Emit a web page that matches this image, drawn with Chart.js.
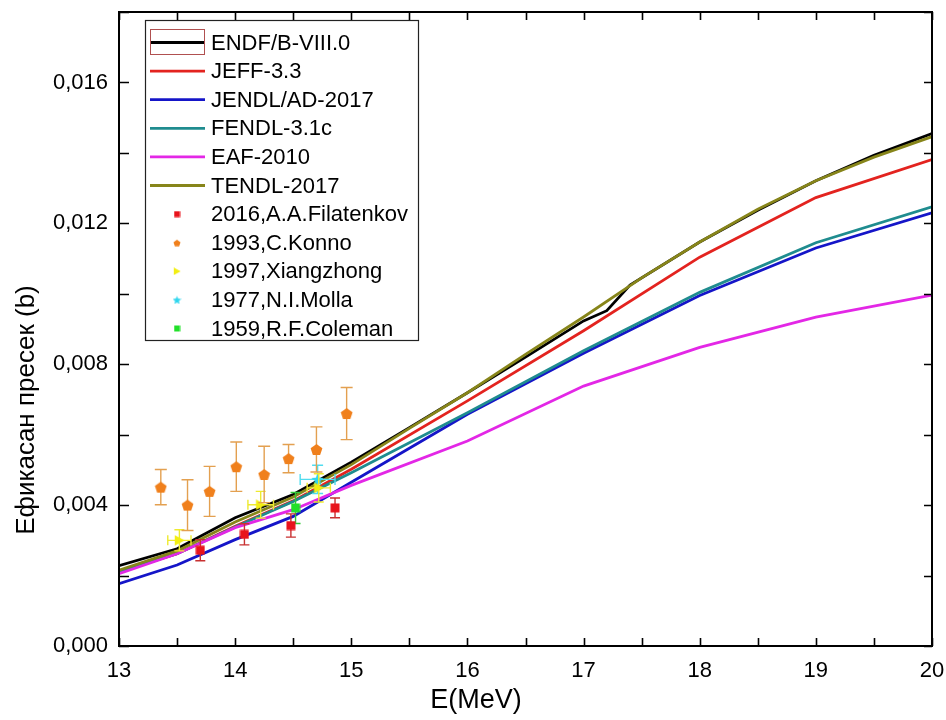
<!DOCTYPE html>
<html>
<head>
<meta charset="utf-8">
<script src="https://cdn.jsdelivr.net/npm/chart.js@4.4.1/dist/chart.umd.min.js"></script>
<style>
  html, body { margin: 0; padding: 0; background: #fff; }
  #wrap { width: 946px; height: 720px; }
</style>
</head>
<body>
<div id="wrap"><canvas id="presek" width="946" height="720"></canvas></div>
<script>
// --- evaluated libraries (E in MeV, sigma in b) ---
const endfE     = [13, 13.5, 14, 14.5, 15, 15.5, 16, 16.5, 17, 17.2, 17.4, 18, 18.5, 19, 19.5, 20];
const endfSigma = [0.00228, 0.00276, 0.00364, 0.00430, 0.00522, 0.00620, 0.00719, 0.00820, 0.00923, 0.00952, 0.01025, 0.01147, 0.01237, 0.01321, 0.01393, 0.01455];

const tendlE     = [13, 13.5, 14, 14.5, 15, 15.5, 16, 16.5, 17, 17.5, 18, 18.5, 19, 19.5, 20];
const tendlSigma = [0.00215, 0.00270, 0.00352, 0.00423, 0.00515, 0.00618, 0.00719, 0.00828, 0.00934, 0.01045, 0.01147, 0.01240, 0.01321, 0.01388, 0.01446];

const libE       = [13, 13.5, 14, 14.5, 15, 16, 17, 18, 19, 20];
const jeffSigma  = [0.00210, 0.00262, 0.00340, 0.00412, 0.00502, 0.00696, 0.00895, 0.01104, 0.01273, 0.01381];
const jendlSigma = [0.00177, 0.00230, 0.00302, 0.00368, 0.00465, 0.00658, 0.00831, 0.00995, 0.01130, 0.01230];
const fendlSigma = [0.00212, 0.00262, 0.00338, 0.00410, 0.00492, 0.00662, 0.00838, 0.01004, 0.01145, 0.01247];
const eafSigma   = [0.00205, 0.00262, 0.00336, 0.00387, 0.00456, 0.00582, 0.00738, 0.00848, 0.00934, 0.00996];

// --- experimental data (EXFOR) ---
const filatenkovE     = [13.70, 14.08, 14.48, 14.86];
const filatenkovSigma = [0.00272, 0.00317, 0.00342, 0.00392];
const filatenkovErr   = [0.00030, 0.00030, 0.00033, 0.00028];

const konnoE     = [13.36, 13.59, 13.78, 14.01, 14.25, 14.46, 14.70, 14.96];
const konnoSigma = [0.00451, 0.00400, 0.00439, 0.00509, 0.00487, 0.00532, 0.00558, 0.00660];
const konnoErr   = [0.00050, 0.00072, 0.00071, 0.00070, 0.00080, 0.00040, 0.00064, 0.00074];

const xiangE      = [13.52, 14.22, 14.72];
const xiangSigma  = [0.00300, 0.00401, 0.00449];
const xiangErr    = [0.00030, 0.00038, 0.00040];
const xiangErrE   = [0.10, 0.11, 0.10];

const mollaE     = [14.71];
const mollaSigma = [0.00473];
const mollaErr   = [0.00040];
const mollaErrE  = [0.15];

const colemanE     = [14.52];
const colemanSigma = [0.00392];
const colemanErr   = [0.00044];

const xTicks = [13, 14, 15, 16, 17, 18, 19, 20];

function pts(xs, ys) {
    return xs.map((x, i) => ({ x: x, y: ys[i] }));
}

// small canvases used as point styles
function markerCanvas(shape, color, size) {
    const c = document.createElement('canvas');
    c.width = size; c.height = size;
    const g = c.getContext('2d');
    const r = size / 2;
    g.fillStyle = color;
    g.beginPath();
    if (shape === 'square') {
        g.rect(0.5, 0.5, size - 1, size - 1);
    } else if (shape === 'pentagon') {
        for (let k = 0; k < 5; k++) {
            const a = -Math.PI / 2 + k * 2 * Math.PI / 5;
            const px = r + (r - 0.3) * Math.cos(a), py = r + 0.6 + (r - 0.3) * Math.sin(a);
            if (k === 0) g.moveTo(px, py); else g.lineTo(px, py);
        }
    } else if (shape === 'triangle') {
        g.moveTo(size - 0.3, r);
        g.lineTo(0.8, 0.3);
        g.lineTo(0.8, size - 0.3);
    } else if (shape === 'star') {
        for (let k = 0; k < 10; k++) {
            const a = -Math.PI / 2 + k * Math.PI / 5;
            const rr = k % 2 === 0 ? r : r * 0.45;
            const px = r + rr * Math.cos(a), py = r + 0.5 + rr * Math.sin(a);
            if (k === 0) g.moveTo(px, py); else g.lineTo(px, py);
        }
    }
    g.closePath();
    g.fill();
    return c;
}

function lineSet(label, xs, ys, color, order) {
    return {
        label: label, data: pts(xs, ys), showLine: true, borderColor: color, backgroundColor: color,
        borderWidth: 2.8, pointRadius: 0, tension: 0, order: order, kind: 'line'
    };
}

function expSet(label, xs, ys, yErr, xErr, shape, color, barColor, size, legendSize, cap) {
    return {
        label: label, data: pts(xs, ys), showLine: false, order: 0,
        pointStyle: markerCanvas(shape, color, size), pointRadius: size / 2,
        legendMarker: markerCanvas(shape, color, legendSize),
        errY: yErr, errX: xErr, barColor: barColor, cap: cap, kind: 'exp'
    };
}

const datasets = [
    lineSet('ENDF/B-VIII.0', endfE, endfSigma, '#000000', 6),
    lineSet('JEFF-3.3', libE, jeffSigma, '#e3231f', 5),
    lineSet('JENDL/AD-2017', libE, jendlSigma, '#1515c8', 4),
    lineSet('FENDL-3.1c', libE, fendlSigma, '#1f8c8f', 3),
    lineSet('EAF-2010', libE, eafSigma, '#e327e6', 2),
    lineSet('TENDL-2017', tendlE, tendlSigma, '#87851a', 1),
    expSet('2016,A.A.Filatenkov', filatenkovE, filatenkovSigma, filatenkovErr, null, 'square', '#e8141c', '#c83030', 10, 7, 10),
    expSet('1993,C.Konno', konnoE, konnoSigma, konnoErr, null, 'pentagon', '#f0801c', '#e3a050', 13, 8, 12),
    expSet('1997,Xiangzhong', xiangE, xiangSigma, xiangErr, xiangErrE, 'triangle', '#f2ee12', '#eeea30', 11, 8, 10),
    expSet('1977,N.I.Molla', mollaE, mollaSigma, mollaErr, mollaErrE, 'star', '#2fd6ee', '#50dcef', 13, 9, 11),
    expSet('1959,R.F.Coleman', colemanE, colemanSigma, colemanErr, null, 'square', '#22e02a', '#30c838', 10, 7, 10)
];

// error bars drawn right before each experimental set
const errorBars = {
    id: 'errorBars',
    beforeDatasetDraw(chart, args) {
        const ds = chart.data.datasets[args.index];
        if (ds.kind !== 'exp') return;
        const ctx = chart.ctx, xs = chart.scales.x, ys = chart.scales.y;
        const c = ds.cap / 2;
        ctx.save();
        ctx.strokeStyle = ds.barColor;
        ctx.lineWidth = 1.4;
        ds.data.forEach((p, i) => {
            const px = xs.getPixelForValue(p.x), py = ys.getPixelForValue(p.y);
            const top = ys.getPixelForValue(p.y + ds.errY[i]), bot = ys.getPixelForValue(p.y - ds.errY[i]);
            ctx.beginPath();
            ctx.moveTo(px, top); ctx.lineTo(px, bot);
            ctx.moveTo(px - c, top); ctx.lineTo(px + c, top);
            ctx.moveTo(px - c, bot); ctx.lineTo(px + c, bot);
            if (ds.errX) {
                const l = xs.getPixelForValue(p.x - ds.errX[i]), r = xs.getPixelForValue(p.x + ds.errX[i]);
                ctx.moveTo(l, py); ctx.lineTo(r, py);
                ctx.moveTo(l, py - c); ctx.lineTo(l, py + c);
                ctx.moveTo(r, py - c); ctx.lineTo(r, py + c);
            }
            ctx.stroke();
        });
        ctx.restore();
    }
};

// closed frame with inward ticks on all four sides
const frame = {
    id: 'frame',
    afterDatasetsDraw(chart) {
        const ctx = chart.ctx, a = chart.chartArea, xs = chart.scales.x, ys = chart.scales.y;
        ctx.save();
        ctx.strokeStyle = '#000';
        ctx.lineWidth = 2;
        ctx.strokeRect(a.left, a.top, a.right - a.left, a.bottom - a.top);
        ctx.lineWidth = 1.6;
        ctx.beginPath();
        for (let v = 13; v <= 20.001; v += 0.5) {
            const px = Math.round(xs.getPixelForValue(v)) + 0.5;
            ctx.moveTo(px, a.bottom); ctx.lineTo(px, a.bottom - 8);
            ctx.moveTo(px, a.top); ctx.lineTo(px, a.top + 8);
        }
        for (let k = 0; k <= 9; k++) {
            const py = Math.round(ys.getPixelForValue(k * 0.002)) + 0.5;
            ctx.moveTo(a.left, py); ctx.lineTo(a.left + 10, py);
            ctx.moveTo(a.right, py); ctx.lineTo(a.right - 8, py);
        }
        ctx.stroke();
        ctx.restore();
    }
};

// axis titles
const titles = {
    id: 'titles',
    afterDraw(chart) {
        const ctx = chart.ctx;
        ctx.save();
        ctx.fillStyle = '#000';
        ctx.textAlign = 'center';
        ctx.textBaseline = 'middle';
        ctx.font = '27px "Liberation Sans", Arial, sans-serif';
        ctx.fillText('E(MeV)', 476, 701);
        ctx.translate(27, 410);
        ctx.rotate(-Math.PI / 2);
        ctx.font = '26px "Liberation Sans", Arial, sans-serif';
        ctx.fillText('Ефикасан пресек (b)', 0, 0);
        ctx.restore();
    }
};

// boxed legend in the upper left of the plot
const legendBox = {
    id: 'legendBox',
    afterDraw(chart) {
        const ctx = chart.ctx;
        const left = 145.5, top = 20.5, w = 273, h = 320, row = 28.6, first = 42.5;
        ctx.save();
        ctx.fillStyle = '#fff';
        ctx.fillRect(left, top, w, h);
        ctx.strokeStyle = '#222';
        ctx.lineWidth = 1.2;
        ctx.strokeRect(left, top, w, h);
        ctx.font = '22px "Liberation Sans", Arial, sans-serif';
        ctx.textBaseline = 'middle';
        ctx.textAlign = 'left';
        chart.data.datasets.forEach((ds, i) => {
            const y = first + i * row;
            if (ds.kind === 'line') {
                ctx.strokeStyle = ds.borderColor;
                ctx.lineWidth = 2.8;
                ctx.beginPath();
                ctx.moveTo(150, y); ctx.lineTo(205, y);
                ctx.stroke();
            } else {
                const m = ds.legendMarker;
                ctx.drawImage(m, 177 - m.width / 2, y - m.height / 2);
            }
            ctx.fillStyle = '#000';
            ctx.fillText(ds.label, 211, y + 1);
        });
        // highlighted sample of the first entry
        ctx.strokeStyle = '#b05050';
        ctx.lineWidth = 1;
        ctx.strokeRect(150.5, 29.5, 54, 25);
        ctx.restore();
    }
};

new Chart(document.getElementById('presek'), {
    type: 'scatter',
    data: { datasets: datasets },
    options: {
        responsive: false,
        animation: false,
        layout: { padding: { top: 12, right: 14, left: 0, bottom: 0 } },
        plugins: { legend: { display: false }, tooltip: { enabled: false } },
        scales: {
            x: {
                type: 'linear', min: 13, max: 20,
                afterBuildTicks: s => { s.ticks = xTicks.map(v => ({ value: v })); },
                afterFit: s => { s.height = 74; s.paddingLeft = 0; s.paddingRight = 0; },
                ticks: {
                    autoSkip: false, maxRotation: 0, padding: 12, color: '#000',
                    font: { family: '"Liberation Sans", Arial, sans-serif', size: 22 },
                    callback: v => String(v)
                },
                grid: { display: false, drawTicks: false },
                border: { display: true, color: '#000', width: 2 }
            },
            y: {
                type: 'linear', min: 0, max: 0.018,
                afterFit: s => { s.width = 119; s.paddingTop = 0; s.paddingBottom = 0; },
                ticks: {
                    stepSize: 0.002, autoSkip: false, padding: 11, color: '#000',
                    font: { family: '"Liberation Sans", Arial, sans-serif', size: 22 },
                    callback: v => {
                        const k = Math.round(v / 0.002);
                        return k % 2 === 0 ? (k * 0.002).toFixed(3).replace('.', ',') : '';
                    }
                },
                grid: { display: false, drawTicks: false },
                border: { display: true, color: '#000', width: 2 }
            }
        }
    },
    plugins: [errorBars, frame, titles, legendBox]
});
</script>
</body>
</html>
